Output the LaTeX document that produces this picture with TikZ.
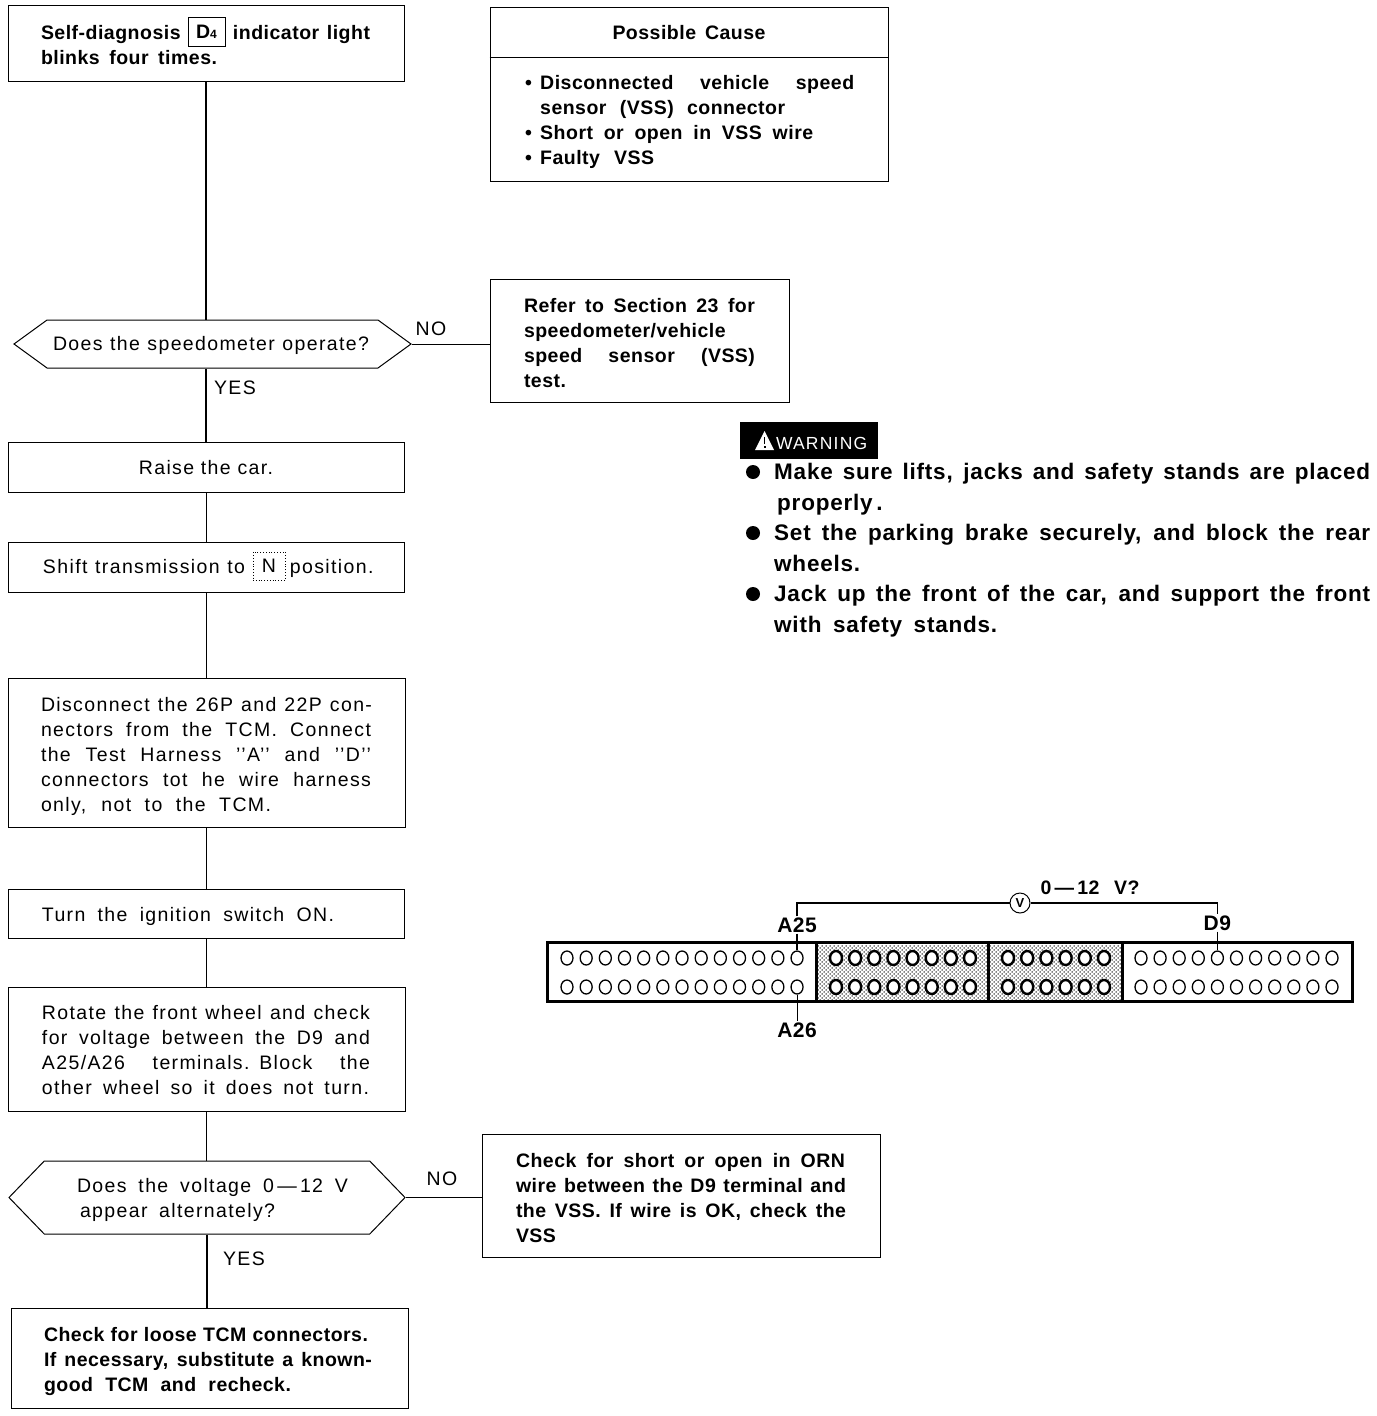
\documentclass[tikz,border=0pt]{standalone}
\usepackage{fontspec}
\setmainfont{Liberation Sans}[LetterSpace=7,BoldFeatures={LetterSpace=2.5}]
\newfontfamily\warnfam{Liberation Sans}[LetterSpace=3.5,BoldFeatures={LetterSpace=3.5}]
\usetikzlibrary{shapes.symbols,shapes.geometric,patterns}
\pgfdeclarepatternformonly{refdots}{\pgfqpoint{-1pt}{-1pt}}{\pgfqpoint{5pt}{5pt}}{\pgfqpoint{4pt}{4pt}}{\pgfpathcircle{\pgfqpoint{0pt}{0pt}}{.75pt}\pgfpathcircle{\pgfqpoint{2pt}{2pt}}{.75pt}\pgfusepath{fill}}
\newcommand\Sj[2]{\makebox[#1pt][s]{\spaceskip=0pt\relax #2}}
\newcommand\Lj[3]{\hspace*{#1pt}\Sj{#2}{#3}}
\newcommand\Dn[1]{\rule{0pt}{\dimexpr14pt+#1pt*2\relax}}
\newcommand\bodyfont{\fontsize{19.5}{25}\selectfont}
\newcommand\warnfont{\warnfam\fontsize{22.5}{30.5}\selectfont\bfseries}
\tikzset{
  x=1pt,y=-1pt,
  flowbox/.style={draw,line width=1pt,inner sep=0pt,align=left,font=\bodyfont},
  boldbox/.style={flowbox,font=\bodyfont\bfseries},
  decide/.style={draw,line width=1pt,signal,signal to=west and east,inner sep=0pt,align=left,font=\bodyfont},
  conn/.style={line width=1pt},
  heavy/.style={line width=2.5pt},
  tag/.style={font=\bodyfont,inner sep=0pt},
  pinlabel/.style={font=\fontsize{21}{25}\selectfont\bfseries,inner sep=1pt},
  pin/.style={ellipse,draw,line width=1.3pt,minimum width=12pt,minimum height=14pt,inner sep=0pt},
  shadedpin/.style={pin,line width=2.4pt,fill=white},
  warnline/.style={font=\warnfont,inner sep=0pt,align=left,anchor=north west},
  warnbullet/.style={circle,fill=black,minimum size=14pt,inner sep=0pt},
}
\begin{document}
\begin{tikzpicture}
\useasboundingbox (0,0) rectangle (1376,1416);

% flow column
\node[boldbox,minimum width=396pt,minimum height=76pt,text width=396pt] (selfdiag) at (206,43) {\Dn{2}\Lj{33}{136}{Self-diagnosis}\hspace{56pt}\Sj{137}{indicator light}\\\Lj{33}{176}{blinks four times.}};
\node[draw,line width=1pt,minimum width=37pt,minimum height=29pt,inner sep=0pt,font=\bodyfont\bfseries] (dfour) at (206.5,31.5) {D\raisebox{0pt}{\fontsize{12}{12}\selectfont 4}};

\node[decide,minimum width=397pt,minimum height=48pt,signal pointer angle=72] (speedo) at (212.5,344) {\Dn{2}\makebox[319pt][l]{\Sj{316}{Does the speedometer operate?}}};
\node[flowbox,minimum width=396pt,minimum height=50pt,align=center] (raise) at (206,467) {\Dn{1}Raise the car.};
\node[flowbox,minimum width=396pt,minimum height=50pt,text width=396pt] (shift) at (206,567) {\Dn{2}\Lj{35}{202}{Shift transmission to}\hspace{45pt}\Sj{82}{position.}};
\node[draw,dotted,line width=.8pt,minimum width=32pt,minimum height=28pt,inner sep=0pt,font=\bodyfont] (npos) at (269,566) {N};
\node[flowbox,minimum width=397pt,minimum height=149pt,text width=397pt] (disc) at (206.5,752.5) {\Dn{4}\Lj{33}{331}{Disconnect the 26P and 22P con-}\\\Lj{33}{330}{nectors from the TCM. Connect}\\\Lj{33}{330}{the Test Harness {'}{'}A{'}{'} and {'}{'}D{'}{'}}\\\Lj{33}{330}{connectors tot he wire harness}\\\Lj{33}{230}{only, not to the TCM.}};
\node[flowbox,minimum width=396pt,minimum height=49pt,text width=396pt] (ign) at (206,913.5) {\Dn{3}\Lj{34}{292}{Turn the ignition switch ON.}};
\node[flowbox,minimum width=397pt,minimum height=124pt,text width=397pt] (rotate) at (206.5,1049) {\Dn{1}\Lj{34}{328}{Rotate the front wheel and check}\\\Lj{34}{328}{for voltage between the D9 and}\\\Lj{34}{328}{A25/A26 terminals. Block the}\\\Lj{34}{327}{other wheel so it does not turn.}};
\node[decide,minimum width=396pt,minimum height=73pt,signal pointer angle=92] (volt) at (207,1197.5) {\Dn{2.5}\Lj{11}{271}{Does the voltage 0\,—\,12 V}\\\Lj{14}{195}{appear alternately?}};
\node[boldbox,minimum width=397pt,minimum height=100pt,text width=397pt] (final) at (209.5,1358) {\Dn{4}\Lj{33}{324}{Check for loose TCM connectors.}\\\Lj{33}{328}{If necessary, substitute a known-}\\\Lj{33}{247}{good TCM and recheck.}};

% right column boxes
\node[draw,line width=1pt,minimum width=398pt,minimum height=174pt] (cause) at (689,94) {};
\node[font=\bodyfont\bfseries,inner sep=0pt] (causetitle) at (689,33) {\Sj{153}{Possible Cause}};
\coordinate (rulel) at (cause.west |- 0,57);
\coordinate (ruler) at (cause.east |- 0,57);
\node[font=\bodyfont\bfseries,inner sep=0pt,align=left,anchor=north west] (causetext) at (525,75) {\makebox[15pt][l]{\textbullet}\Sj{314}{Disconnected vehicle speed}\\\hspace*{15pt}\Sj{245}{sensor (VSS) connector}\\\makebox[15pt][l]{\textbullet}\Sj{273}{Short or open in VSS wire}\\\makebox[15pt][l]{\textbullet}\Sj{114}{Faulty VSS}};
\node[boldbox,minimum width=299pt,minimum height=123pt,text width=299pt] (refer) at (639.5,340.5) {\Dn{3}\Lj{34}{231}{Refer to Section 23 for}\\\Lj{34}{231}{speedometer/vehicle}\\\Lj{34}{231}{speed sensor (VSS)}\\\Lj{34}{44}{test.}};
\node[boldbox,minimum width=398pt,minimum height=123pt,text width=398pt] (check) at (681,1195.5) {\Dn{3}\Lj{34}{329}{Check for short or open in ORN}\\\Lj{34}{330}{wire between the D9 terminal and}\\\Lj{34}{330}{the VSS. If wire is OK, check the}\\\Lj{34}{42}{VSS}};

% connectors
\draw[conn] (rulel) -- (ruler);
\draw[heavy] (selfdiag.south) -- (selfdiag.south |- speedo.north);
\draw[heavy] (selfdiag.south |- speedo.south) -- (raise.north);
\draw[conn] (raise.south) -- (shift.north);
\draw[conn] (shift.south) -- (shift.south |- disc.north);
\draw[conn] (shift.south |- disc.south) -- (shift.south |- ign.north);
\draw[conn] (ign.south) -- (ign.south |- rotate.north);
\draw[conn] (ign.south |- rotate.south) -- (ign.south |- volt.north);
\draw[heavy] (volt.south) -- (volt.south |- final.north);
\draw[conn] (speedo.east) -- (speedo.east -| refer.west);
\draw[conn] (volt.east) -- (volt.east -| check.west);
\node[tag] (no1) at (431,329) {NO};
\node[tag] (yes1) at (235,388) {YES};
\node[tag] (no2) at (442,1179) {NO};
\node[tag] (yes2) at (244,1259) {YES};

% warning
\node[fill=black,minimum width=138pt,minimum height=37pt,inner sep=0pt,text=white,text width=138pt,align=left,font=\fontsize{17.5}{18}\selectfont] (warn) at (809,440.5) {\Dn{2.5}\hspace*{36pt}WARNING};
\fill[white] (764.5,431) -- (774,450) -- (755,450) -- cycle;
\draw[black,line width=1.6pt] (764.5,437) -- (764.5,443.5);
\fill[black] (763.5,445.5) rectangle (765.5,448);
\node[warnbullet] (w1) at (753,472) {};
\node[warnbullet] (w2) at (753,533) {};
\node[warnbullet] (w3) at (753,594) {};
\node[warnline] (w1t) at (774,463) {\Sj{596}{Make sure lifts, jacks and safety stands are placed}\\\hspace*{3pt}properly\,.};
\node[warnline] (w2t) at (774,524) {\Sj{596}{Set the parking brake securely, and block the rear}\\wheels.};
\node[warnline] (w3t) at (774,585) {\Sj{596}{Jack up the front of the car, and support the front}\\\Sj{223}{with safety stands.}};

% connector block
\fill[pattern=refdots] (817,945) rectangle (1122,1000);
\draw[line width=3pt] (547.5,942.5) rectangle (1352.5,1001.5);
\draw[line width=3pt] (816,942.5) -- (816,1001.5);
\draw[line width=3pt] (988,942.5) -- (988,1001.5);
\draw[line width=3pt] (1122,942.5) -- (1122,1001.5);
\foreach \i in {1,...,13}{
  \node[pin] (at\i) at ({567+(\i-1)*19.17},958) {};
  \node[pin] (ab\i) at ({567+(\i-1)*19.17},987) {};
}
\foreach \i in {1,...,8}{
  \node[shadedpin] (bt\i) at ({836+(\i-1)*19.14},958) {};
  \node[shadedpin] (bb\i) at ({836+(\i-1)*19.14},987) {};
}
\foreach \i in {1,...,6}{
  \node[shadedpin] (ct\i) at ({1008+(\i-1)*19.2},958) {};
  \node[shadedpin] (cb\i) at ({1008+(\i-1)*19.2},987) {};
}
\foreach \i in {1,...,11}{
  \node[pin] (dt\i) at ({1141+(\i-1)*19.1},958) {};
  \node[pin] (db\i) at ({1141+(\i-1)*19.1},987) {};
}
\node[pinlabel] (lA) at (at13 |- 0,925) {A25};
\node[pinlabel] (lD) at (dt5 |- 0,923) {D9};
\node[pinlabel] (lB) at (ab13 |- 0,1030) {A26};
\node[circle,draw,line width=1pt,minimum size=20pt,inner sep=0pt,font=\fontsize{13}{13}\selectfont\bfseries] (volts) at (1020,903) {V};
\node[font=\bodyfont\bfseries,inner sep=0pt] (vrange) at (1090,888) {\Sj{99}{0\,—\,12 V?}};
\draw[line width=1.6pt] (lA.north) |- (volts.west);
\draw[line width=1.6pt] (volts.east) -| (lD.north);
\draw[line width=1.6pt] (lA.south) -- (at13.north);
\draw[conn] (lD.south) -- (dt5.north);
\draw[conn] (ab13.south) -- (lB.north);
\end{tikzpicture}
\end{document}
